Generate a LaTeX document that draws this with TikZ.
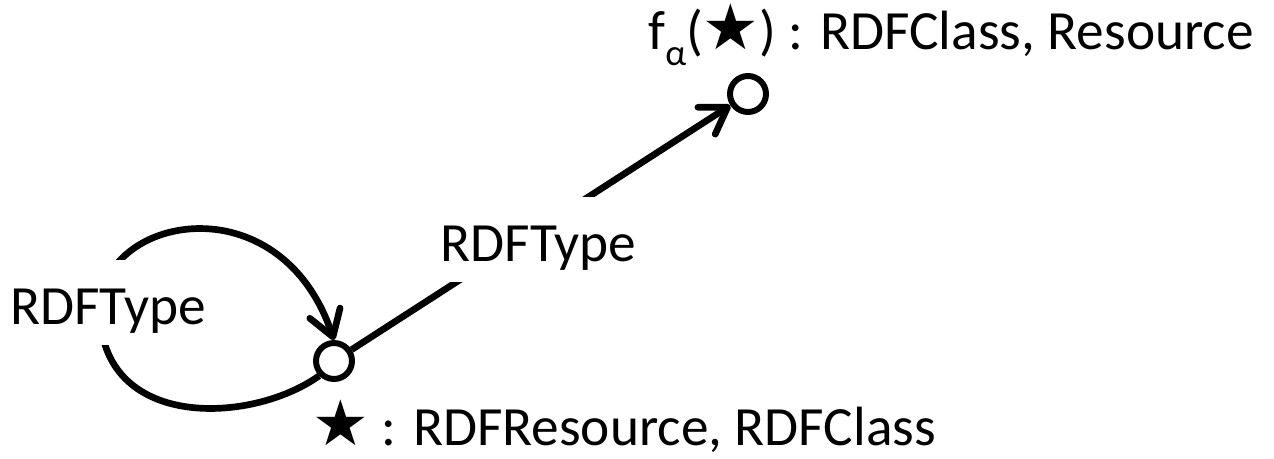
\documentclass[tikz,border=0pt]{standalone}
\usepackage{fontspec}
\setmainfont{Carlito}
\newfontfamily\symfont{DejaVu Sans}
\usetikzlibrary{arrows.meta}

\newcommand{\starsym}{{\symfont\fontsize{36}{36}\selectfont ★}}
\newcommand{\alphasub}{\raisebox{-0.28em}{\fontsize{21}{21}\selectfont α}}

\begin{document}
\begin{tikzpicture}[
        x=0.02cm,
        y=-0.02cm,
        font=\fontsize{31.5}{38}\selectfont,
        vertex/.style={circle, draw, line width=3.4pt, fill=white, minimum size=0.72cm, inner sep=0pt},
        edge/.style={line width=3.8pt, -{Straight Barb[length=0.5cm, width=0.64cm, round]}},
        edgelabel/.style={fill=white, inner sep=0pt, text height=1.3cm, text depth=0.4cm, anchor=base}
    ]
        \useasboundingbox (0,0) rectangle (1274,459);

        % the two resources
        \node[vertex] (star) at (334,361) {};
        \node[vertex] (img) at (748,94) {};
        \node[anchor=base west, inner sep=0pt] (starlbl) at (312,445) {\starsym{} : RDFResource, RDFClass};
        \node[anchor=base west, inner sep=0pt] (imglbl) at (648,50) {f\alphasub(\starsym) : RDFClass, Resource};

        % typing edges
        \draw[edge] (star) -- node[edgelabel, pos=0.494, yshift=-0.66cm] (typelbl) {RDFType} (img);
        \draw[edge] (star.225) .. controls (250,425) and (100,430) .. (100,310)
            node[edgelabel, xshift=0.16cm, yshift=-0.3cm] (looplbl) {RDFType}
            .. controls (100,215) and (280,180) .. (star.north);
    \end{tikzpicture}
\end{document}
